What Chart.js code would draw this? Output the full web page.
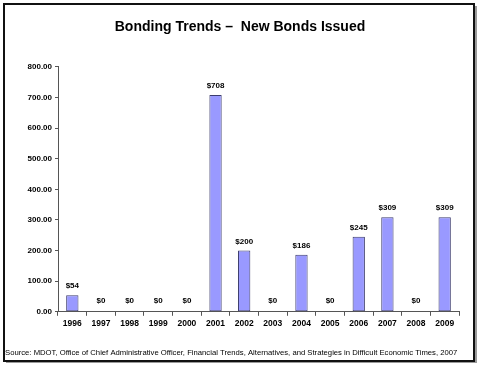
<!DOCTYPE html>
<html>
<head>
<meta charset="utf-8">
<script src="https://cdn.jsdelivr.net/npm/chart.js@4/dist/chart.umd.min.js"></script>
<style>
  html, body { margin: 0; padding: 0; background: #fff; }
  #wrap { width: 480px; height: 366px; position: relative; }
</style>
</head>
<body>
<div id="wrap"><canvas id="chart" width="480" height="366"></canvas></div>
<script>
// datos de la grafica
var years = ['1996', '1997', '1998', '1999', '2000', '2001', '2002', '2003', '2004', '2005', '2006', '2007', '2008', '2009'];
var bonds = [54, 0, 0, 0, 0, 708, 200, 0, 186, 0, 245, 309, 0, 309];
var valueLabels = ['$54', '$0', '$0', '$0', '$0', '$708', '$200', '$0', '$186', '$0', '$245', '$309', '$0', '$309'];
var titleText = 'Bonding Trends \u2013  New Bonds Issued';
var sourceText = 'Source: MDOT, Office of Chief Administrative Officer, Financial Trends, Alternatives, and Strategies in Difficult Economic Times, 2007';

// marco negro alrededor de todo
const framePlugin = {
    id: 'frame',
    afterDraw(chart) {
        const ctx = chart.ctx;
        ctx.save();
        ctx.fillStyle = '#9a9a9a';
        ctx.fillRect(6, 361, 471, 2);
        ctx.fillRect(475, 6, 2, 357);
        ctx.strokeStyle = '#111';
        ctx.lineWidth = 2;
        ctx.strokeRect(4, 4, 470, 357);
        ctx.restore();
    }
};

// etiquetas encima de las barras
const labelsPlugin = {
    id: 'barLabels',
    afterDatasetsDraw(chart) {
        const ctx = chart.ctx;
        const meta = chart.getDatasetMeta(0);
        ctx.save();
        ctx.font = 'bold 8px "Liberation Sans", Arial, sans-serif';
        ctx.fillStyle = '#000';
        ctx.textAlign = 'center';
        ctx.textBaseline = 'bottom';
        meta.data.forEach((bar, i) => {
            const y = bonds[i] === 0 ? bar.y - 7 : bar.y - 5;
            ctx.fillText(valueLabels[i], bar.x, y);
        });
        ctx.restore();
    }
};

// fuente abajo
const sourcePlugin = {
    id: 'source',
    afterDraw(chart) {
        const ctx = chart.ctx;
        ctx.save();
        ctx.font = '7.7px "Liberation Sans", Arial, sans-serif';
        ctx.fillStyle = '#000';
        ctx.textAlign = 'left';
        ctx.textBaseline = 'middle';
        ctx.fillText(sourceText, 5, 353);
        ctx.restore();
    }
};

var myChart = new Chart(document.getElementById('chart'), {
    type: 'bar',
    data: {
        labels: years,
        datasets: [{
            data: bonds,
            backgroundColor: '#9999ff',
            borderColor: '#3c3c6e',
            borderWidth: 1,
            borderSkipped: false,
            categoryPercentage: 1.0,
            barPercentage: 0.43
        }]
    },
    options: {
        responsive: false,
        animation: false,
        layout: {
            padding: { left: 21, right: 21, top: 0, bottom: 34 }
        },
        plugins: {
            legend: { display: false },
            tooltip: { enabled: false },
            title: {
                display: true,
                text: titleText,
                color: '#000',
                font: { family: '"Liberation Sans", Arial, sans-serif', size: 14, weight: 'bold' },
                padding: { top: 19, bottom: 31 }
            }
        },
        scales: {
            x: {
                offset: true,
                grid: {
                    offset: true,
                    drawOnChartArea: false,
                    color: '#555',
                    tickLength: 4
                },
                border: { color: '#555', width: 1 },
                ticks: {
                    color: '#000',
                    padding: 3,
                    maxRotation: 0,
                    font: { family: '"Liberation Sans", Arial, sans-serif', size: 8.5, weight: 'bold' }
                }
            },
            y: {
                min: 0,
                max: 800,
                grid: {
                    drawOnChartArea: false,
                    color: '#555',
                    tickLength: 3
                },
                border: { color: '#555', width: 1 },
                ticks: {
                    stepSize: 100,
                    color: '#000',
                    padding: 3,
                    font: { family: '"Liberation Sans", Arial, sans-serif', size: 8, weight: 'bold' },
                    callback: v => v.toFixed(2)
                },
                afterFit: s => { s.width = 37; }
            }
        }
    },
    plugins: [labelsPlugin, sourcePlugin, framePlugin]
});
</script>
</body>
</html>
